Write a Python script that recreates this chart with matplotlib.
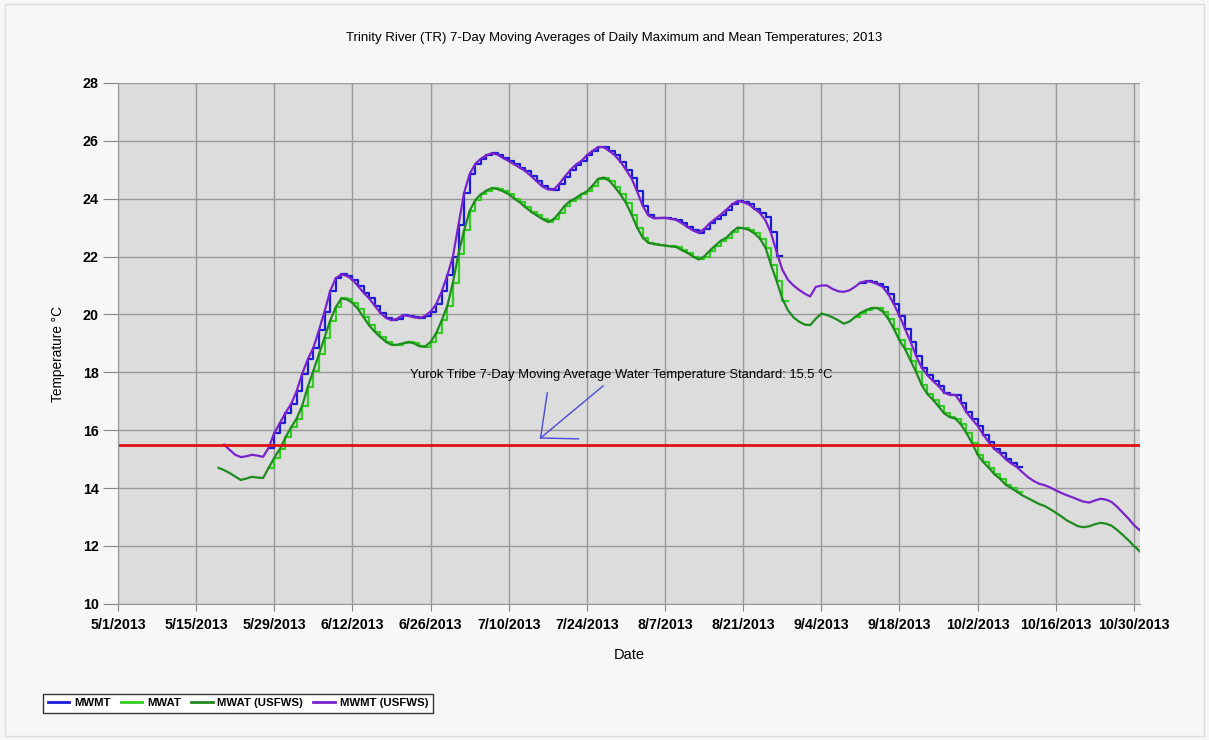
import matplotlib
matplotlib.use('Agg')
import matplotlib.pyplot as plt
import matplotlib.dates as mdates
from matplotlib.lines import Line2D
import numpy as np
import pandas as pd

plt.rcParams['font.family'] = ['Liberation Sans', 'DejaVu Sans']

# USFWS 7-day moving averages (smooth daily series)
mwmt_usfws_start = '2013-05-20'
mwmt_usfws = [15.50, 15.32, 15.15, 15.07, 15.10, 15.15, 15.12, 15.08, 15.40, 15.90,
              16.25, 16.60, 16.90, 17.35, 17.95, 18.45, 18.85, 19.45, 20.10, 20.80,
              21.25, 21.38, 21.33, 21.20, 20.98, 20.75, 20.55, 20.30, 20.05, 19.88,
              19.80, 19.85, 19.97, 19.95, 19.90, 19.87, 19.95, 20.10, 20.35, 20.80,
              21.35, 22.00, 23.10, 24.20, 24.85, 25.20, 25.38, 25.50, 25.57, 25.52,
              25.40, 25.30, 25.18, 25.07, 24.95, 24.78, 24.60, 24.42, 24.32, 24.30,
              24.50, 24.75, 24.98, 25.17, 25.30, 25.50, 25.65, 25.78, 25.78, 25.65,
              25.50, 25.28, 25.00, 24.70, 24.25, 23.75, 23.42, 23.32, 23.33, 23.34,
              23.30, 23.27, 23.15, 23.02, 22.90, 22.82, 22.95, 23.15, 23.30, 23.45,
              23.62, 23.80, 23.92, 23.88, 23.80, 23.65, 23.50, 23.25, 22.80, 22.15,
              21.55, 21.20, 21.00, 20.85, 20.72, 20.62, 20.95, 21.00, 21.00, 20.88,
              20.80, 20.78, 20.83, 20.95, 21.10, 21.15, 21.12, 21.05, 20.95, 20.70,
              20.35, 19.95, 19.50, 19.05, 18.55, 18.15, 17.90, 17.70, 17.52, 17.30,
              17.22, 17.22, 16.95, 16.62, 16.38, 16.15, 15.85, 15.58, 15.35, 15.20,
              15.00, 14.85, 14.73, 14.55, 14.38, 14.25, 14.15, 14.10, 14.02, 13.92,
              13.83, 13.75, 13.68, 13.60, 13.53, 13.50, 13.57, 13.63, 13.60, 13.52,
              13.35, 13.15, 12.95, 12.72, 12.55]

mwat_usfws_start = '2013-05-19'
mwat_usfws = [14.70, 14.62, 14.52, 14.40, 14.28, 14.33, 14.39, 14.36, 14.35, 14.70,
              15.05, 15.35, 15.75, 16.10, 16.40, 16.85, 17.50, 18.05, 18.62, 19.20,
              19.78, 20.25, 20.55, 20.52, 20.40, 20.18, 19.90, 19.62, 19.40, 19.22,
              19.05, 18.95, 18.95, 19.00, 19.05, 19.00, 18.90, 18.88, 19.05, 19.35,
              19.80, 20.30, 21.10, 22.10, 22.90, 23.58, 23.95, 24.15, 24.28, 24.37,
              24.33, 24.25, 24.15, 24.00, 23.87, 23.70, 23.55, 23.42, 23.30, 23.20,
              23.28, 23.50, 23.75, 23.92, 24.02, 24.15, 24.25, 24.45, 24.68, 24.73,
              24.62, 24.40, 24.15, 23.85, 23.45, 23.00, 22.65, 22.48, 22.43, 22.40,
              22.38, 22.35, 22.33, 22.22, 22.13, 22.00, 21.90, 22.00, 22.20, 22.38,
              22.55, 22.65, 22.85, 23.00, 22.98, 22.92, 22.80, 22.62, 22.30, 21.70,
              21.15, 20.55, 20.15, 19.90, 19.75, 19.65, 19.63, 19.85, 20.03, 19.98,
              19.90, 19.80, 19.68, 19.75, 19.90, 20.05, 20.15, 20.22, 20.22, 20.10,
              19.85, 19.50, 19.10, 18.80, 18.40, 18.00, 17.55, 17.25, 17.05, 16.82,
              16.58, 16.45, 16.40, 16.20, 15.90, 15.55, 15.15, 14.90, 14.70, 14.48,
              14.32, 14.12, 14.00, 13.88, 13.75, 13.65, 13.55, 13.45, 13.38, 13.27,
              13.15, 13.02, 12.88, 12.78, 12.68, 12.65, 12.68, 12.75, 12.80, 12.77,
              12.70, 12.55, 12.38, 12.20, 12.00, 11.82]

# daily-step series (two logger deployments each)
mwmt_a_start = '2013-05-28'
mwmt_a = [15.40, 15.90, 16.25, 16.60, 16.90, 17.35, 17.95, 18.45, 18.85, 19.45,
          20.10, 20.80, 21.25, 21.38, 21.33, 21.20, 20.98, 20.75, 20.55, 20.30,
          20.05, 19.88, 19.80, 19.85, 19.97, 19.95, 19.90, 19.87, 19.95, 20.10,
          20.35, 20.80, 21.35, 22.00, 23.10, 24.20, 24.85, 25.20, 25.38, 25.50,
          25.57, 25.52, 25.40, 25.30, 25.18, 25.07, 24.95, 24.78, 24.60, 24.42,
          24.32, 24.30, 24.50, 24.75, 24.98, 25.17, 25.30, 25.50, 25.65, 25.78,
          25.78, 25.65, 25.50, 25.28, 25.00, 24.70, 24.25, 23.75, 23.42, 23.32,
          23.33, 23.34, 23.30, 23.27, 23.15, 23.02, 22.90, 22.82, 22.95, 23.15,
          23.30, 23.45, 23.62, 23.80, 23.92, 23.88, 23.80, 23.65, 23.50, 23.35,
          22.85, 22.02]
mwmt_b_start = '2013-09-11'
mwmt_b = [21.10, 21.15, 21.12, 21.05, 20.95, 20.70, 20.35, 19.95, 19.50, 19.05,
          18.55, 18.15, 17.90, 17.70, 17.52, 17.30, 17.22, 17.22, 16.95, 16.62,
          16.38, 16.15, 15.85, 15.58, 15.35, 15.20, 15.00, 14.85, 14.73]

mwat_a_start = '2013-05-28'
mwat_a = [14.70, 15.05, 15.35, 15.75, 16.10, 16.40, 16.85, 17.50, 18.05, 18.62,
          19.20, 19.78, 20.25, 20.55, 20.52, 20.40, 20.18, 19.90, 19.62, 19.40,
          19.22, 19.05, 18.95, 18.95, 19.00, 19.05, 19.00, 18.90, 18.88, 19.05,
          19.35, 19.80, 20.30, 21.10, 22.10, 22.90, 23.58, 23.95, 24.15, 24.28,
          24.37, 24.33, 24.25, 24.15, 24.00, 23.87, 23.70, 23.55, 23.42, 23.30,
          23.20, 23.28, 23.50, 23.75, 23.92, 24.02, 24.15, 24.25, 24.45, 24.68,
          24.73, 24.62, 24.40, 24.15, 23.85, 23.45, 23.00, 22.65, 22.48, 22.43,
          22.40, 22.38, 22.35, 22.33, 22.22, 22.13, 22.00, 21.90, 22.00, 22.20,
          22.38, 22.55, 22.65, 22.85, 23.00, 22.98, 22.92, 22.80, 22.62, 22.30,
          21.70, 21.15, 20.45]
mwat_b_start = '2013-09-10'
mwat_b = [19.90, 20.05, 20.15, 20.22, 20.22, 20.10, 19.85, 19.50, 19.10, 18.80,
          18.40, 18.00, 17.55, 17.25, 17.05, 16.82, 16.58, 16.45, 16.40, 16.20,
          15.90, 15.55, 15.15, 14.90, 14.70, 14.48, 14.32, 14.12, 14.00, 13.88]

standard = 15.5
tick_dates = pd.date_range('2013-05-01', '2013-10-30', freq='14D')

C_MWMT = '#1c1cd8'
C_MWAT = '#33cc22'
C_MWAT_F = '#1f8a1f'
C_MWMT_F = '#7a22cc'


def dnum(start, n):
    return mdates.date2num(pd.date_range(start, periods=n, freq='D'))


def steps(ax, start, vals, color):
    x = mdates.date2num(pd.date_range(start, periods=len(vals) + 1, freq='D'))
    y = list(vals) + [vals[-1]]
    ax.plot(x, y, drawstyle='steps-post', color=color, lw=1.6)


fig = plt.figure(figsize=(12.09, 7.40), dpi=100, facecolor='#f7f7f7')
ax = fig.add_axes([0.0976, 0.184, 0.8454, 0.704])
ax.set_facecolor('#dcdcdc')

steps(ax, mwmt_a_start, mwmt_a, C_MWMT)
steps(ax, mwmt_b_start, mwmt_b, C_MWMT)
steps(ax, mwat_a_start, mwat_a, C_MWAT)
steps(ax, mwat_b_start, mwat_b, C_MWAT)
ax.plot(dnum(mwat_usfws_start, len(mwat_usfws)), mwat_usfws, color=C_MWAT_F, lw=1.6)
ax.plot(dnum(mwmt_usfws_start, len(mwmt_usfws)), mwmt_usfws, color=C_MWMT_F, lw=1.6)

ax.axhline(standard, color='#e01010', lw=2)

# annotation with hand-drawn style arrow
t0 = mdates.date2num(pd.Timestamp('2013-05-01'))
tip = (t0 + 75.7, 15.73)
ax.plot([t0 + 86.9, tip[0], t0 + 76.9], [17.53, tip[1], 17.29], color='#4a4ad8', lw=1)
ax.plot([tip[0], t0 + 82.5], [tip[1], 15.70], color='#4a4ad8', lw=1)
ax.text(t0 + 90.2, 17.9, 'Yurok Tribe 7-Day Moving Average Water Temperature Standard: 15.5 °C',
        ha='center', va='center', fontsize=9.4)

ax.set_xlim(t0, t0 + 183.1)
ax.set_ylim(10, 28)
ax.set_yticks(range(10, 29, 2))
ax.set_xticks(mdates.date2num(tick_dates))
ax.set_xticklabels([f'{d.month}/{d.day}/{d.year}' for d in tick_dates])
for lab in ax.get_xticklabels() + ax.get_yticklabels():
    lab.set_fontweight('bold')
    lab.set_fontsize(10.3)
ax.tick_params(axis='y', length=11, color='#888888', pad=3)
ax.tick_params(axis='x', length=5, color='#888888', pad=5)
ax.grid(True, color='#999999', lw=1)
ax.set_axisbelow(True)
for s in ['top', 'right']:
    ax.spines[s].set_visible(False)
ax.spines['left'].set_color('#999999')
ax.spines['bottom'].set_color('#999999')

ax.set_xlabel('Date', fontsize=10.5, labelpad=12)
ax.set_ylabel('Temperature °C', fontsize=9.8)
ax.yaxis.set_label_coords(-0.052, 0.48)
fig.text(0.508, 0.949, 'Trinity River (TR) 7-Day Moving Averages of Daily Maximum and Mean Temperatures; 2013',
         ha='center', va='center', fontsize=9.5)

handles = [Line2D([], [], color=C_MWMT, lw=2),
           Line2D([], [], color=C_MWAT, lw=2),
           Line2D([], [], color=C_MWAT_F, lw=2),
           Line2D([], [], color=C_MWMT_F, lw=2)]
labels = ['MWMT', 'MWAT', 'MWAT (USFWS)', 'MWMT (USFWS)']
leg = fig.legend(handles, labels, loc='lower left', bbox_to_anchor=(0.031, 0.029),
                 ncol=4, fancybox=False, edgecolor='#333333', framealpha=1,
                 prop={'weight': 'bold', 'size': 8.2}, handlelength=1.9,
                 borderpad=0.4, columnspacing=0.9, handletextpad=0.4)
leg.get_frame().set_linewidth(1)

fig.patches.append(plt.Rectangle((0.004, 0.006), 0.992, 0.988, transform=fig.transFigure,
                                 fill=False, edgecolor='#dddddd', lw=1))

fig.savefig('out.png', dpi=100, facecolor=fig.get_facecolor())
